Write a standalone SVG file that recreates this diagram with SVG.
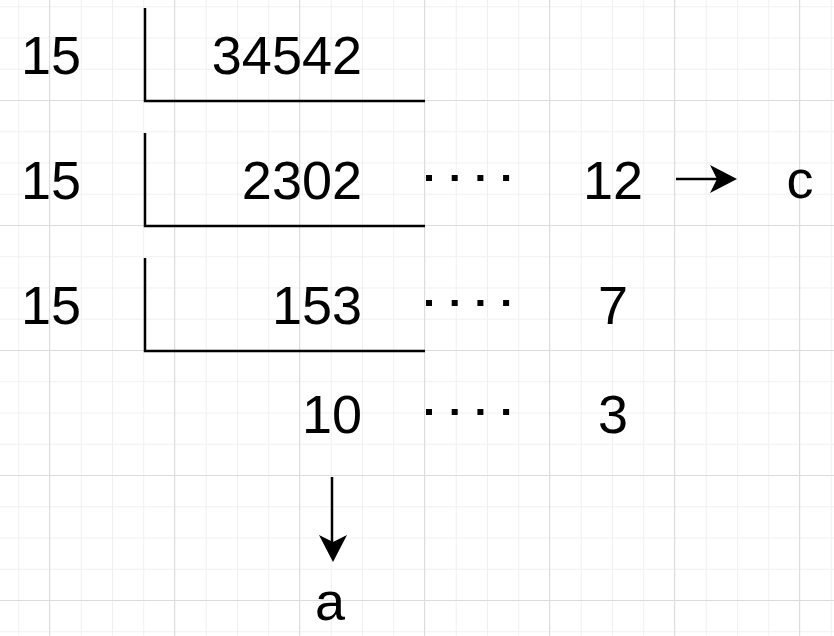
<svg xmlns="http://www.w3.org/2000/svg" width="834" height="636" viewBox="0 0 834 636">
<style>
.t{font-family:"Liberation Sans",Arial,sans-serif;font-size:54px;fill:#000}
.e{text-anchor:end}
.m{text-anchor:middle}
.br{fill:none;stroke:#000;stroke-width:2.5}
.dots{stroke:#000;stroke-width:6;stroke-dasharray:6 19.7}
.conn{stroke:#000;stroke-width:2.5;fill:none}
</style>
<defs>
<pattern id="minor" x="18.25" y="6.25" width="31.25" height="31.25" patternUnits="userSpaceOnUse">
<path d="M0 0.5H31.25M0.5 0V31.25" stroke="#f0f0f0" stroke-width="1"/>
</pattern>
<pattern id="major" x="49" y="100" width="125" height="125" patternUnits="userSpaceOnUse">
<path d="M0 0.5H125M0.5 0V125" stroke="#dcdcdc" stroke-width="1"/>
</pattern>
</defs>
<rect width="834" height="636" fill="#fff"/>
<rect width="834" height="636" fill="url(#minor)"/>
<rect width="834" height="636" fill="url(#major)"/>

<g id="row1">
<text class="t e" x="81" y="74">15</text>
<path class="br" d="M145 8V101H425"/>
<text class="t e" x="362" y="74">34542</text>
</g>
<g id="row2">
<text class="t e" x="81" y="199">15</text>
<path class="br" d="M145 133V226H425"/>
<text class="t e" x="362" y="199">2302</text>
<line class="dots" x1="426" y1="178" x2="510" y2="178"/>
<text class="t e" x="643" y="199">12</text>
</g>
<g id="row3">
<text class="t e" x="81" y="324">15</text>
<path class="br" d="M145 258V351H425"/>
<text class="t e" x="362" y="324">153</text>
<line class="dots" x1="426" y1="303" x2="510" y2="303"/>
<text class="t e" x="628" y="324">7</text>
</g>
<g id="row4">
<text class="t e" x="362" y="433">10</text>
<line class="dots" x1="426" y1="412" x2="510" y2="412"/>
<text class="t e" x="628" y="433">3</text>
</g>
<g id="c">
<text class="t m" x="800" y="198">c</text>
</g>
<g id="a">
<text class="t m" x="330" y="620">a</text>
</g>
<g id="connectors">
<line class="conn" x1="676" y1="179" x2="722" y2="179"/>
<polygon points="737,179 710,165 717,179 710,193" fill="#000"/>
<line class="conn" x1="332" y1="477" x2="332" y2="547"/>
<polygon points="333,562 319,535 333,542 347,535" fill="#000"/>
</g>
</svg>
